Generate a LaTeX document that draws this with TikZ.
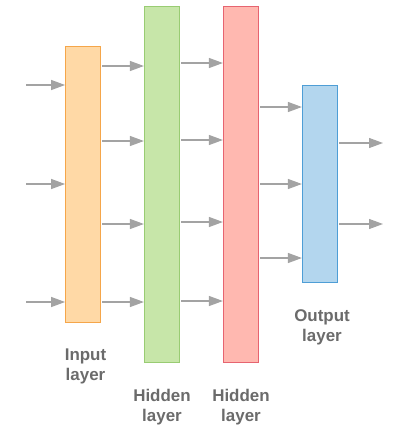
\documentclass[tikz,border=0pt]{standalone}
\usepackage{fontspec}
\setmainfont{Liberation Sans}
\usetikzlibrary{arrows.meta}
\definecolor{inFill}{HTML}{FFD9A6}
\definecolor{inLine}{HTML}{F5A64A}
\definecolor{hAFill}{HTML}{C7E6A9}
\definecolor{hALine}{HTML}{99CC73}
\definecolor{hBFill}{HTML}{FFB8B0}
\definecolor{hBLine}{HTML}{E66470}
\definecolor{outFill}{HTML}{B3D6EE}
\definecolor{outLine}{HTML}{4E9ED6}
\definecolor{flow}{HTML}{A3A3A3}
\definecolor{caption}{HTML}{6B6B6B}
\begin{document}
\begin{tikzpicture}[x=1bp,y=-1bp,
  layerbox/.style={rectangle,line width=1.2bp,inner sep=0pt,minimum width=35bp},
  link/.style={draw=flow,line width=1.2bp,-{Triangle[length=14bp,width=10bp]}},
  layertext/.style={text=caption,font=\bfseries\fontsize{17}{20.5}\selectfont,align=center,inner sep=0pt}]
\useasboundingbox (0,0) rectangle (396,428);

% layers
\node[layerbox,fill=inFill,draw=inLine,minimum height=276bp] (inp) at (83.2,184.2) {};
\node[layerbox,fill=hAFill,draw=hALine,minimum height=356bp] (hA) at (162,184.2) {};
\node[layerbox,fill=hBFill,draw=hBLine,minimum height=356bp] (hB) at (241,184.2) {};
\node[layerbox,fill=outFill,draw=outLine,minimum height=197bp] (out) at (320,184) {};

% free ends of the outer arrows
\coordinate (src1) at (26,85);
\coordinate (src2) at (26,184);
\coordinate (src3) at (26,302);
\coordinate (dst1) at (383,143);
\coordinate (dst2) at (383,224);

% inputs
\foreach \s in {src1,src2,src3}
  \draw[link] (\s) -- (inp.west |- \s);

% input -> first hidden
\foreach \y in {66,141,224,302}
  \draw[link] ([xshift=1bp]inp.east |- 0,\y) -- (hA.west |- 0,\y);

% first hidden -> second hidden
\foreach \y in {63,140,222,301}
  \draw[link] ([xshift=1bp]hA.east |- 0,\y) -- (hB.west |- 0,\y);

% second hidden -> output
\foreach \y in {107,184,258}
  \draw[link] ([xshift=1bp]hB.east |- 0,\y) -- (out.west |- 0,\y);

% outputs
\foreach \d in {dst1,dst2}
  \draw[link] ([xshift=1bp]out.east |- \d) -- (\d);

% captions
\node[layertext] (capIn) at (85.5,366.5) {Input\\layer};
\node[layertext] (capHA) at (162,407) {Hidden\\layer};
\node[layertext] (capHB) at (241,407) {Hidden\\layer};
\node[layertext] (capOut) at (322,327.6) {Output\\layer};
\end{tikzpicture}
\end{document}
